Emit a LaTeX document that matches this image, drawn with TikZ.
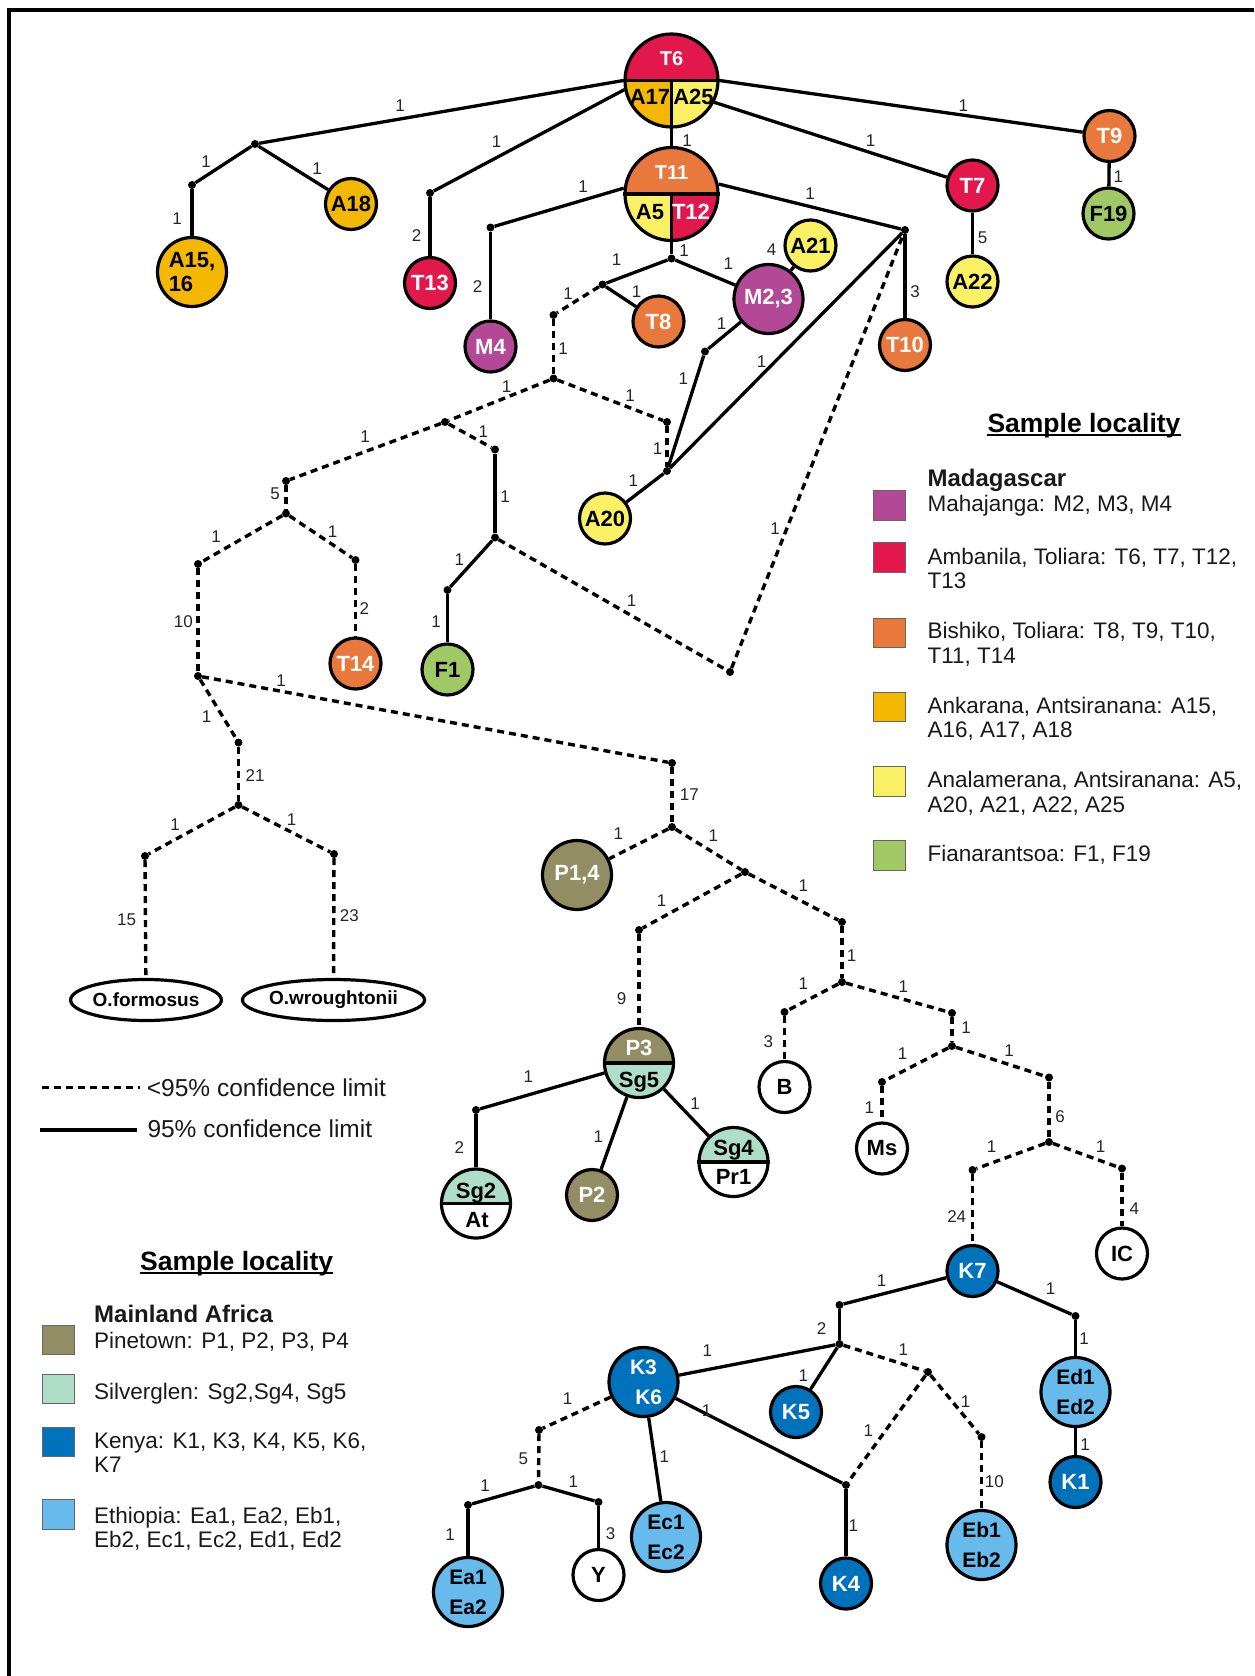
\documentclass[tikz,border=0pt]{standalone}
\usepackage{fontspec}
\setmainfont{Liberation Sans}
\usetikzlibrary{shapes.geometric}

% locality colours
\definecolor{cMah}{HTML}{B24896}
\definecolor{cAmb}{HTML}{E2184C}
\definecolor{cBis}{HTML}{E8783C}
\definecolor{cAnk}{HTML}{F5B800}
\definecolor{cAna}{HTML}{FAF064}
\definecolor{cFia}{HTML}{A0C864}
\definecolor{cPin}{HTML}{928D62}
\definecolor{cSil}{HTML}{AFDEC8}
\definecolor{cKen}{HTML}{0072BC}
\definecolor{cEth}{HTML}{66BBEC}

\newcommand\hapfont{\fontsize{22}{24}\selectfont\bfseries}
\newcommand\duofont{\fontsize{21}{30}\selectfont\bfseries}
\newcommand\topfont{\fontsize{20}{24}\selectfont\bfseries}
\newcommand\labfont{\fontsize{17}{19}\selectfont}
\newcommand\legfont{\fontsize{22.5}{25}\selectfont}
\newcommand\headfont{\fontsize{24}{27}\selectfont\bfseries}
\newcommand\titlefont{\fontsize{26.5}{30}\selectfont\bfseries}
\newcommand\keyfont{\fontsize{24.5}{28}\selectfont}
\newcommand\outfont{\fontsize{19}{22}\selectfont\bfseries}

\tikzset{
  hap/.style={circle, draw=black, line width=3.2pt, inner sep=0pt, font=\hapfont, text=black},
  sm/.style={minimum size=51pt},
  bg/.style={minimum size=69pt},
  hg/.style={minimum size=93pt},
  wt/.style={text=white},
  duo/.style={font=\duofont, align=center},
  jdot/.style={circle, fill=black, inner sep=0pt, minimum size=8pt},
  sol/.style={line width=3.3pt},
  dsh/.style={line width=3.4pt, dash pattern=on 7pt off 5pt},
  lab/.style={font=\labfont, text=black!85, inner sep=0pt, text height=12.2pt, text depth=0pt},
  part/.style={inner sep=0pt, font=\hapfont, text height=15.8pt, text depth=0pt},
  toppart/.style={part, font=\topfont, text height=14.3pt},
  leg/.style={font=\legfont, text=black!90, inner sep=0pt, anchor=base west},
  swatch/.style={draw=black!60, line width=0.8pt, minimum width=32pt, minimum height=29.5pt, inner sep=0pt},
  outg/.style={ellipse, draw=black, line width=3.2pt, inner sep=0pt, font=\outfont, minimum height=41pt}
}
\newcommand\elab[4]{\node[lab] (#1) at (#2,#3) {#4};}

\begin{document}
\begin{tikzpicture}[x=1pt, y=-1pt]
\useasboundingbox (0,0) rectangle (1254,1676);
\draw[line width=4pt, line join=miter] (9,1676) -- (9,10) -- (1254,10);

% ---------- split haplotype circles ----------
\begin{scope}
  \clip (671.5,80.5) circle (46.5pt);
  \fill[cAmb] (620,80.5) rectangle (724,30);
  \fill[cAnk] (620,80.5) rectangle (671.5,130);
  \fill[cAna] (671.5,80.5) rectangle (724,130);
\end{scope}
\node[hap,hg] (T6) at (671.5,80.5) {};
\draw[sol] (T6.west) -- (T6.east);
\draw[sol] (T6.center) -- (T6.south);
\node[toppart,wt] (T6a) at (671.5,58) {T6};
\node[part] (T6b) at (650,97) {A17};
\node[part] (T6c) at (693.5,97) {A25};

\begin{scope}
  \clip (671.5,194) circle (46.5pt);
  \fill[cBis] (620,194) rectangle (724,140);
  \fill[cAna] (620,194) rectangle (671.5,245);
  \fill[cAmb] (671.5,194) rectangle (724,245);
\end{scope}
\node[hap,hg] (T11) at (671.5,194) {};
\draw[sol] (T11.west) -- (T11.east);
\draw[sol] (T11.center) -- (T11.south);
\node[toppart,wt] (T11a) at (671.5,172.7) {T11};
\node[part] (T11b) at (650,211.5) {A5};
\node[part,wt] (T11c) at (691,211.5) {T12};

\begin{scope}
  \clip (639,1063) circle (34.5pt);
  \fill[cPin] (600,1063) rectangle (680,1025);
  \fill[cSil] (600,1063) rectangle (680,1101);
\end{scope}
\node[hap,bg] (P3) at (639,1063) {};
\draw[sol] (P3.west) -- (P3.east);
\node[part,wt] (P3a) at (639,1048) {P3};
\node[part] (P3b) at (639,1080) {Sg5};

\begin{scope}
  \clip (476,1203.5) circle (34.5pt);
  \fill[cSil] (440,1203.5) rectangle (512,1165);
  \fill[white] (440,1203.5) rectangle (512,1242);
\end{scope}
\node[hap,bg] (Sg2) at (476,1203.5) {};
\draw[sol] (Sg2.west) -- (Sg2.east);
\node[part] (Sg2a) at (476,1191) {Sg2};
\node[part] (Sg2b) at (477,1219.5) {At};

\begin{scope}
  \clip (733.5,1162) circle (34.5pt);
  \fill[cSil] (697,1162) rectangle (770,1125);
  \fill[white] (697,1162) rectangle (770,1200);
\end{scope}
\node[hap,bg] (Sg4) at (733.5,1162) {};
\draw[sol] (Sg4.west) -- (Sg4.east);
\node[part] (Sg4a) at (733.5,1147.5) {Sg4};
\node[part] (Sg4b) at (733.5,1177) {Pr1};

% ---------- single haplotype circles ----------
\node[hap,sm,fill=cAnk] (A18) at (351,204) {A18};
\node[hap,bg,fill=cAnk,align=left] (A1516) at (192,272) {A15,\\16};
\node[hap,sm,fill=cAmb,wt] (T13) at (430,283) {T13};
\node[hap,sm,fill=cMah,wt] (M4) at (490.5,346.5) {M4};
\node[hap,sm,fill=cBis,wt] (T8) at (658.5,321.5) {T8};
\node[hap,bg,fill=cMah,wt] (M23) at (768.5,299) {M2,3};
\node[hap,sm,fill=cAna] (A21) at (810.5,245.5) {A21};
\node[hap,sm,fill=cAna] (A20) at (605,518.5) {A20};
\node[hap,sm,fill=cBis,wt] (T10) at (905,345) {T10};
\node[hap,sm,fill=cAmb,wt] (T7) at (972.5,185.5) {T7};
\node[hap,sm,fill=cAna] (A22) at (972.5,281.5) {A22};
\node[hap,sm,fill=cBis,wt] (T9) at (1109.5,136) {T9};
\node[hap,sm,fill=cFia] (F19) at (1108.5,213.5) {F19};
\node[hap,sm,fill=cFia] (F1) at (447.5,669.5) {F1};
\node[hap,sm,fill=cBis,wt] (T14) at (355.5,663.5) {T14};
\node[hap,bg,fill=cPin,wt] (P14) at (577,875) {P1,4};
\node[hap,sm,fill=white] (B) at (784.5,1087) {B};
\node[hap,sm,fill=white] (Ms) at (882,1148.5) {Ms};
\node[hap,sm,fill=white] (IC) at (1122,1253.5) {IC};
\node[hap,sm,fill=cKen,wt] (K7) at (972.5,1271) {K7};
\node[hap,sm,fill=cPin,wt] (P2) at (592,1195) {P2};
\node[hap,bg,fill=cEth,duo] (Ed) at (1075.5,1392) {Ed1\\Ed2};
\node[hap,sm,fill=cKen,wt] (K1) at (1075.5,1482) {K1};
\node[hap,bg,fill=cEth,duo] (Eb) at (981.5,1545) {Eb1\\Eb2};
\node[hap,sm,fill=cKen,wt] (K4) at (846,1583.5) {K4};
\node[hap,bg,fill=cKen,wt,duo] (K36) at (643.5,1382) {K3\\\hspace*{0.5em}K6};
\node[hap,sm,fill=cKen,wt] (K5) at (796,1412) {K5};
\node[hap,bg,fill=cEth,duo] (Ec) at (666,1537) {Ec1\\Ec2};
\node[hap,bg,fill=cEth,duo] (Ea) at (468,1592) {Ea1\\Ea2};
\node[hap,sm,fill=white] (Y) at (598.5,1575) {Y};
\node[outg,minimum width=118pt] (OF) at (146,1000) {O.formosus};
\node[outg,minimum width=142pt] (OW) at (333.5,1000) {O.wroughtonii};

% ---------- median vectors ----------
\node[jdot] (j1) at (255,144) {};
\node[jdot] (j2) at (192,185) {};
\node[jdot] (jT13) at (430,193) {};
\node[jdot] (jM4) at (490.5,227.5) {};
\node[jdot] (jT11b) at (671.5,258.5) {};
\node[jdot] (jT8) at (602.5,284.5) {};
\node[jdot] (jA) at (553.5,315) {};
\node[jdot] (jB) at (553.5,378.5) {};
\node[jdot] (jC) at (667,422) {};
\node[jdot] (jA20) at (667,471) {};
\node[jdot] (jM) at (705,351.5) {};
\node[jdot] (jR) at (905,230) {};
\node[jdot] (jD) at (445,422) {};
\node[jdot] (jE) at (495,449.5) {};
\node[jdot] (jF) at (495,537.5) {};
\node[jdot] (jG) at (447.5,590) {};
\node[jdot] (jH) at (730,672) {};
\node[jdot] (jI) at (286,481) {};
\node[jdot] (jJ) at (286,513.5) {};
\node[jdot] (jK) at (198,564) {};
\node[jdot] (jL) at (355.5,560) {};
\node[jdot] (jM2) at (198,676) {};
\node[jdot] (j17) at (672,763) {};
\node[jdot] (jN) at (238.5,742.5) {};
\node[jdot] (jO) at (238.5,805) {};
\node[jdot] (jP) at (145,856) {};
\node[jdot] (jQ) at (334,854) {};
\node[jdot] (j17b) at (672,827) {};
\node[jdot] (jS) at (745,872) {};
\node[jdot] (jT) at (639,930) {};
\node[jdot] (jU) at (842,922) {};
\node[jdot] (jV) at (842,982) {};
\node[jdot] (jW) at (784.5,1012) {};
\node[jdot] (jX) at (952,1013) {};
\node[jdot] (jY) at (952,1046) {};
\node[jdot] (jZ) at (882,1082) {};
\node[jdot] (jAA) at (1049,1077.5) {};
\node[jdot] (jAB) at (1049,1142) {};
\node[jdot] (jAC) at (972.5,1170) {};
\node[jdot] (jAD) at (1122,1168.5) {};
\node[jdot] (jP3a) at (476,1110) {};
\node[jdot] (jK1) at (839.5,1305) {};
\node[jdot] (jK2) at (839.5,1344) {};
\node[jdot] (jK3) at (1075.5,1316) {};
\node[jdot] (jK4) at (928,1372) {};
\node[jdot] (jK5) at (981.5,1437) {};
\node[jdot] (jK6) at (846,1485) {};
\node[jdot] (jE1) at (539,1430) {};
\node[jdot] (jE2) at (538.5,1485) {};
\node[jdot] (jE3) at (468,1505) {};
\node[jdot] (jE4) at (598.5,1502) {};

% ---------- supported links ----------
\draw[sol] (T6.west) -- (j1);
\draw[sol] (j1) -- (j2);
\draw[sol] (j1) -- (A18);
\draw[sol] (j2) -- (A1516);
\draw[sol] (T6.191) -- (jT13);
\draw[sol] (jT13) -- (T13);
\draw[sol] (T6) -- (T11);
\draw[sol] (T6.333) -- (T7);
\draw[sol] (T7) -- (A22);
\draw[sol] (T6.east) -- (T9);
\draw[sol] (T9) -- (F19);
\draw[sol] (T11.173) -- (jM4);
\draw[sol] (jM4) -- (M4);
\draw[sol] (T11) -- (jT11b);
\draw[sol] (jT11b) -- (jT8);
\draw[sol] (jT8) -- (T8);
\draw[sol] (jT11b) -- (M23);
\draw[sol] (M23) -- (A21);
\draw[sol] (M23) -- (jM);
\draw[sol] (jM) -- (jA20);
\draw[sol] (T11.12) -- (jR);
\draw[sol] (jR) -- (T10);
\draw[sol] (jR) -- (jA20);
\draw[sol] (A20) -- (jA20);
\draw[sol] (jE) -- (jF);
\draw[sol] (jF) -- (jG);
\draw[sol] (jG) -- (F1);
\draw[sol] (P3) -- (jP3a);
\draw[sol] (jP3a) -- (Sg2);
\draw[sol] (P3) -- (P2);
\draw[sol] (P3) -- (Sg4);
\draw[sol] (K7) -- (jK1);
\draw[sol] (K7) -- (jK3);
\draw[sol] (jK3) -- (Ed);
\draw[sol] (Ed) -- (K1);
\draw[sol] (jK1) -- (jK2);
\draw[sol] (K36) -- (jK2);
\draw[sol] (jK2) -- (K5);
\draw[sol] (K36) -- (jK6);
\draw[sol] (jK6) -- (K4);
\draw[sol] (K36) -- (Ec);
\draw[sol] (jE2) -- (jE3);
\draw[sol] (jE2) -- (jE4);
\draw[sol] (jE3) -- (Ea);
\draw[sol] (jE4) -- (Y);

% ---------- weakly supported links ----------
\draw[dsh] (jT8) -- (jA);
\draw[dsh] (jA) -- (jB);
\draw[dsh] (jB) -- (jD);
\draw[dsh] (jB) -- (jC);
\draw[dsh] (jC) -- (jA20);
\draw[dsh] (jD) -- (jE);
\draw[dsh] (jF) -- (jH);
\draw[dsh] (jH) -- (jR);
\draw[dsh] (jD) -- (jI);
\draw[dsh] (jI) -- (jJ);
\draw[dsh] (jJ) -- (jK);
\draw[dsh] (jJ) -- (jL);
\draw[dsh] (jL) -- (T14);
\draw[dsh] (jK) -- (jM2);
\draw[dsh] (jM2) -- (j17);
\draw[dsh] (jM2) -- (jN);
\draw[dsh] (jN) -- (jO);
\draw[dsh] (jO) -- (jP);
\draw[dsh] (jO) -- (jQ);
\draw[dsh] (jP) -- (OF);
\draw[dsh] (jQ) -- (OW);
\draw[dsh] (j17) -- (j17b);
\draw[dsh] (j17b) -- (P14);
\draw[dsh] (j17b) -- (jS);
\draw[dsh] (jS) -- (jT);
\draw[dsh] (jT) -- (P3);
\draw[dsh] (jS) -- (jU);
\draw[dsh] (jU) -- (jV);
\draw[dsh] (jV) -- (jW);
\draw[dsh] (jW) -- (B);
\draw[dsh] (jV) -- (jX);
\draw[dsh] (jX) -- (jY);
\draw[dsh] (jY) -- (jZ);
\draw[dsh] (jZ) -- (Ms);
\draw[dsh] (jY) -- (jAA);
\draw[dsh] (jAA) -- (jAB);
\draw[dsh] (jAB) -- (jAC);
\draw[dsh] (jAB) -- (jAD);
\draw[dsh] (jAD) -- (IC);
\draw[dsh] (jAC) -- (K7);
\draw[dsh] (jK2) -- (jK4);
\draw[dsh] (jK4) -- (jK5);
\draw[dsh] (jK5) -- (Eb);
\draw[dsh] (jK4) -- (jK6);
\draw[dsh] (K36) -- (jE1);
\draw[dsh] (jE1) -- (jE2);

% ---------- mutation counts ----------
\elab{e1}{400}{105}{1}
\elab{e2}{206}{161}{1}
\elab{e3}{317}{168}{1}
\elab{e4}{177}{218}{1}
\elab{e5}{496.7}{141.7}{1}
\elab{e6}{416.7}{235}{2}
\elab{e7}{687}{140}{1}
\elab{e8}{583}{186.7}{1}
\elab{e9}{477.7}{286.7}{2}
\elab{e10}{684}{250}{1}
\elab{e11}{616.7}{259.3}{1}
\elab{e12}{636.7}{291.7}{1}
\elab{e13}{728.3}{263.3}{1}
\elab{e14}{771.7}{249.3}{4}
\elab{e15}{568}{293}{1}
\elab{e16}{563}{348}{1}
\elab{e17}{721.7}{323.3}{1}
\elab{e18}{683.3}{378.3}{1}
\elab{e19}{761.7}{361.7}{1}
\elab{e20}{506.7}{386.7}{1}
\elab{e21}{630}{395}{1}
\elab{e22}{657.7}{448.3}{1}
\elab{e23}{633.3}{480}{1}
\elab{e24}{483.3}{431.7}{1}
\elab{e25}{505}{496.7}{1}
\elab{e26}{459.3}{559.3}{1}
\elab{e27}{436}{621.7}{1}
\elab{e28}{631.7}{600}{1}
\elab{e29}{775}{528.3}{1}
\elab{e30}{689.3}{794}{17}
\elab{e31}{963.3}{105}{1}
\elab{e32}{1118.3}{176}{1}
\elab{e33}{870.7}{140}{1}
\elab{e34}{982.7}{237.3}{5}
\elab{e35}{810}{193.3}{1}
\elab{e36}{915}{291.7}{3}
\elab{e37}{365}{436}{1}
\elab{e38}{275}{493.3}{5}
\elab{e39}{216}{536}{1}
\elab{e40}{332.7}{531}{1}
\elab{e41}{364.3}{608.3}{2}
\elab{e42}{183.3}{621}{10}
\elab{e43}{281}{680}{1}
\elab{e44}{206.7}{716}{1}
\elab{e45}{255}{775}{21}
\elab{e46}{175}{824}{1}
\elab{e47}{291.7}{819.3}{1}
\elab{e48}{126.7}{919.3}{15}
\elab{e49}{349.3}{915}{23}
\elab{e50}{618.3}{833.3}{1}
\elab{e51}{713.3}{835}{1}
\elab{e52}{661.7}{900}{1}
\elab{e53}{621.7}{998.3}{9}
\elab{e54}{803.3}{885}{1}
\elab{e55}{851.7}{955}{1}
\elab{e56}{803.3}{983.3}{1}
\elab{e57}{768.3}{1041.7}{3}
\elab{e58}{528.3}{1076}{1}
\elab{e59}{459.3}{1147.3}{2}
\elab{e60}{598.3}{1136.7}{1}
\elab{e61}{695}{1103.3}{1}
\elab{e62}{903.3}{986}{1}
\elab{e63}{966}{1027.7}{1}
\elab{e64}{902.7}{1053.3}{1}
\elab{e65}{869.3}{1107.7}{1}
\elab{e66}{1009}{1050.7}{1}
\elab{e67}{1060}{1116}{6}
\elab{e68}{991.7}{1146.7}{1}
\elab{e69}{1100.7}{1146.7}{1}
\elab{e70}{1134.3}{1208.3}{4}
\elab{e71}{956.7}{1216.7}{24}
\elab{e72}{881.7}{1280.7}{1}
\elab{e73}{1050.7}{1288.3}{1}
\elab{e74}{1084}{1338.3}{1}
\elab{e75}{1085}{1444.3}{1}
\elab{e76}{821.7}{1328.3}{2}
\elab{e77}{903.3}{1349.3}{1}
\elab{e78}{965.7}{1401.7}{1}
\elab{e79}{994.3}{1481.7}{10}
\elab{e80}{868.3}{1430.7}{1}
\elab{e81}{853.3}{1525}{1}
\elab{e82}{707.3}{1350}{1}
\elab{e83}{803.3}{1375}{1}
\elab{e84}{706.7}{1410}{1}
\elab{e85}{664.3}{1456}{1}
\elab{e86}{567.7}{1398.3}{1}
\elab{e87}{523.3}{1458.3}{5}
\elab{e88}{485}{1485}{1}
\elab{e89}{573.3}{1481.7}{1}
\elab{e90}{450}{1534.3}{1}
\elab{e91}{610.7}{1533.3}{3}

% ---------- key: Madagascar ----------
\node[anchor=base west, inner sep=0pt, font=\titlefont] (ttlA) at (987.3,432) {Sample locality};
\draw[line width=2pt] ([yshift=-3pt]ttlA.base west) -- ([yshift=-3pt]ttlA.base east);
\node[leg, font=\headfont] (hdA) at (927.3,486) {Madagascar};
\node[swatch, fill=cMah] (swA1) at (889.5,505.3) {};
\node[swatch, fill=cAmb] (swA2) at (889.5,557.2) {};
\node[swatch, fill=cBis] (swA3) at (889.5,632.8) {};
\node[swatch, fill=cAnk] (swA4) at (889.5,707) {};
\node[swatch, fill=cAna] (swA5) at (889.5,781.3) {};
\node[swatch, fill=cFia] (swA6) at (889.5,855.3) {};
\node[leg] (lgA1) at (927.3,511.7) {Mahajanga: M2, M3, M4};
\node[leg] (lgA2) at (927.3,564) {Ambanila, Toliara: T6, T7, T12,};
\node[leg] (lgA2b) at (927.3,588.3) {T13};
\node[leg] (lgA3) at (927.3,638.3) {Bishiko, Toliara: T8, T9, T10,};
\node[leg] (lgA3b) at (927.3,663) {T11, T14};
\node[leg] (lgA4) at (927.3,713.3) {Ankarana, Antsiranana: A15,};
\node[leg] (lgA4b) at (927.3,737.7) {A16, A17, A18};
\node[leg] (lgA5) at (927.3,787.7) {Analamerana, Antsiranana: A5,};
\node[leg] (lgA5b) at (927.3,812.3) {A20, A21, A22, A25};
\node[leg] (lgA6) at (927.3,861.7) {Fianarantsoa: F1, F19};

% ---------- key: line styles ----------
\coordinate (kd1) at (41.7,1087.3);
\coordinate (kd2) at (140,1087.3);
\coordinate (ks1) at (40,1130);
\coordinate (ks2) at (136.7,1130);
\draw[dsh] (kd1) -- (kd2);
\draw[sol] (ks1) -- (ks2);
\node[anchor=base west, inner sep=0pt, font=\keyfont, text=black!90] (kd) at (146.7,1096) {<95\% confidence limit};
\node[anchor=base west, inner sep=0pt, font=\keyfont, text=black!90] (ks) at (147.3,1137.7) {95\% confidence limit};

% ---------- key: mainland Africa ----------
\node[anchor=base west, inner sep=0pt, font=\titlefont] (ttlB) at (140,1270) {Sample locality};
\draw[line width=2pt] ([yshift=-3pt]ttlB.base west) -- ([yshift=-3pt]ttlB.base east);
\node[leg, font=\headfont] (hdB) at (94,1322.7) {Mainland Africa};
\node[swatch, fill=cPin] (swB1) at (58.2,1340) {};
\node[swatch, fill=cSil] (swB2) at (58.2,1389) {};
\node[swatch, fill=cKen] (swB3) at (58.2,1441.7) {};
\node[swatch, fill=cEth] (swB4) at (58.2,1514.3) {};
\node[leg] (lgB1) at (94,1348.3) {Pinetown: P1, P2, P3, P4};
\node[leg] (lgB2) at (94,1399.3) {Silverglen: Sg2,Sg4, Sg5};
\node[leg] (lgB3) at (94,1448.3) {Kenya: K1, K3, K4, K5, K6,};
\node[leg] (lgB3b) at (94,1472.7) {K7};
\node[leg] (lgB4) at (94,1523.3) {Ethiopia: Ea1, Ea2, Eb1,};
\node[leg] (lgB4b) at (94,1547.7) {Eb2, Ec1, Ec2, Ed1, Ed2};
\end{tikzpicture}
\end{document}
